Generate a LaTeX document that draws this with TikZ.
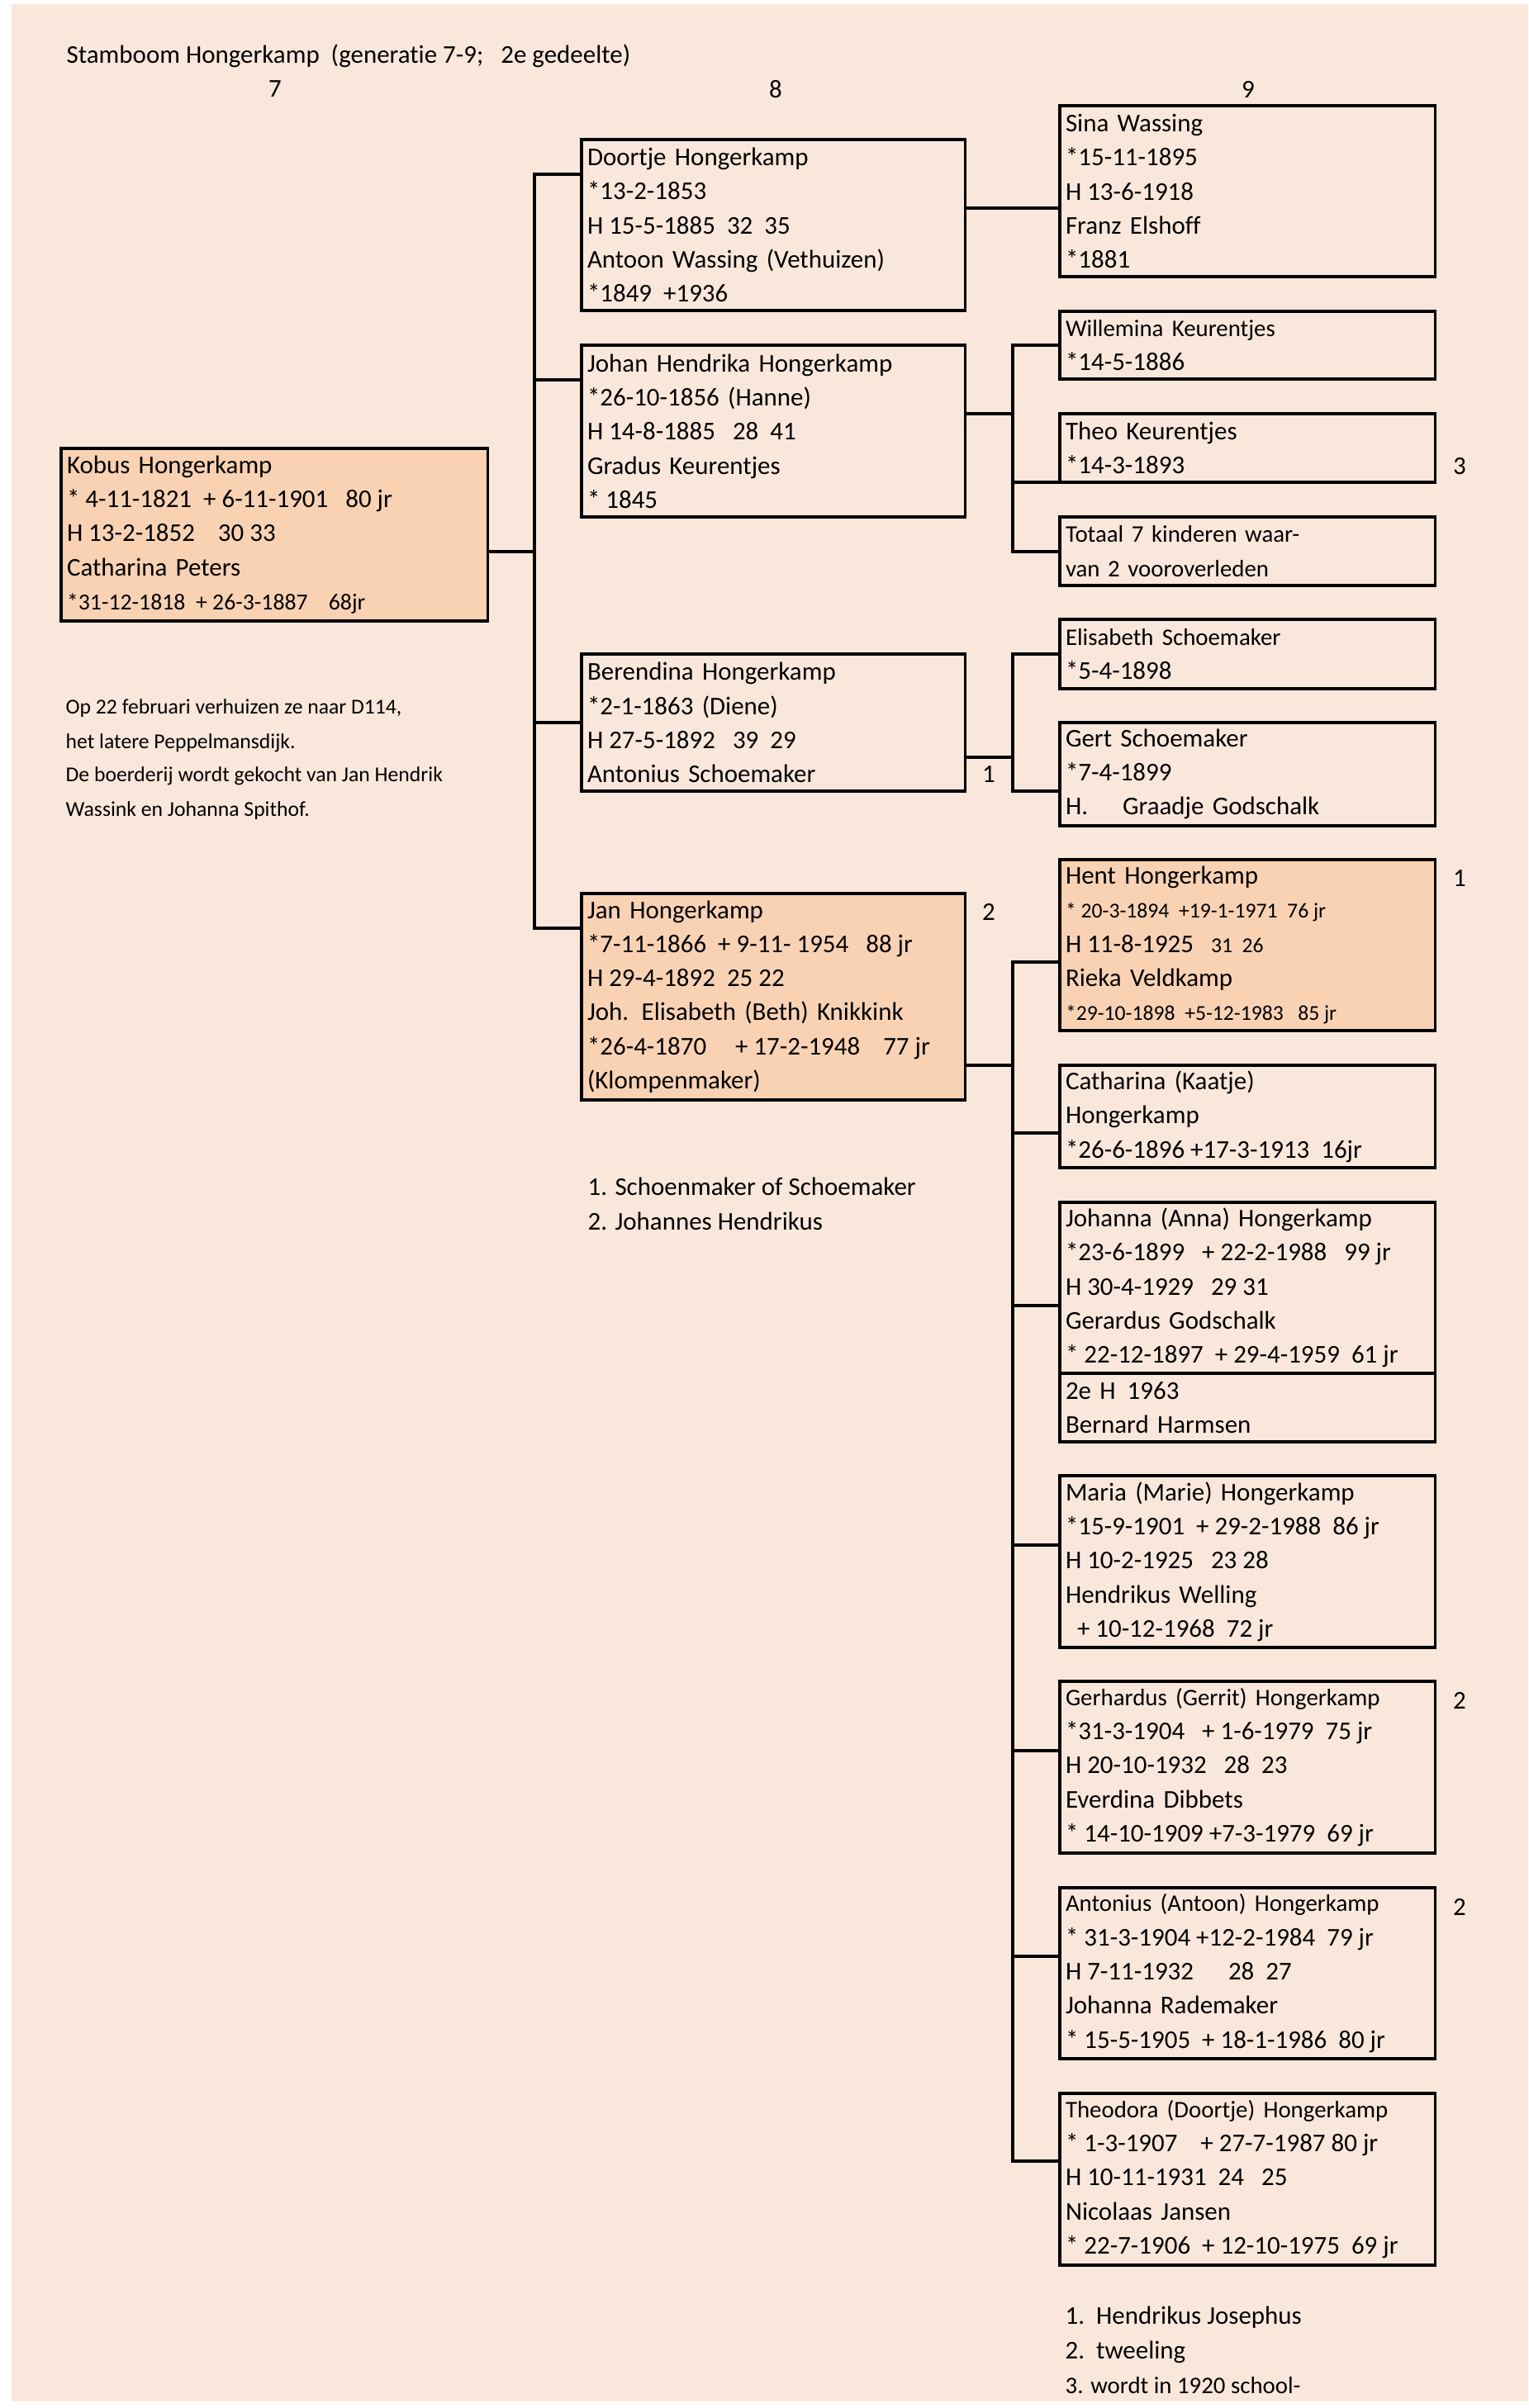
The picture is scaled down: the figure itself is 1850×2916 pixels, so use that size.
\documentclass[tikz,border=0pt]{standalone}
\usepackage{fontspec}
\setmainfont{Carlito}[Ligatures={TeX,NoCommon}]
\usetikzlibrary{calc}
\definecolor{bgpeach}{RGB}{250,231,219}
\definecolor{hilite}{RGB}{249,210,180}
\newcommand{\nf}{\fontsize{8.8}{11.75}\selectfont}
\newcommand{\smf}{\fontsize{8.2}{11.75}\selectfont}
\newcommand{\mdf}{\fontsize{7.9}{11.75}\selectfont}
\newcommand{\tnf}{\fontsize{7.3}{11.75}\selectfont}
\newcommand{\ws}{\hspace*{0.226em}}
\tikzset{
  pbox/.style={draw, line width=1pt, anchor=north west, outer sep=0pt,
    inner xsep=0.07cm, inner ysep=0pt, align=left, font=\nf},
  gA/.style={minimum width=4.64cm, text width=4.50cm},
  gB/.style={minimum width=4.54cm, text width=4.40cm},
  hl/.style={fill=hilite},
  conn/.style={line width=1pt},
  txt/.style={anchor=west, inner sep=0pt, font=\nf},
  stxt/.style={anchor=west, inner sep=0pt, font=\tnf},
  lbl/.style={anchor=center, inner sep=0pt, font=\nf}
}
\begin{document}
\begin{tikzpicture}[x=0.01cm,y=-0.01cm]
\useasboundingbox (0,0) rectangle (1850,2916);
\fill[bgpeach] (14,5) rectangle (1850,2908);

% title and column numbers
\node[txt] (title) at (80,68) {Stamboom Hongerkamp\ws\ws(generatie 7-9;\ws\ws\ws2e gedeelte)};
\node[lbl] (col7) at (333,108) {7};
\node[lbl] (col8) at (939,108) {8};
\node[lbl] (col9) at (1511,108) {9};

% generation 7
\node[pbox,hl,minimum width=5.16cm,text width=5.02cm,minimum height=2.09cm] (kobus) at (74,543)
 {Kobus Hongerkamp\\{}*\ws4-11-1821\ws\ws+\ws6-11-1901\ws\ws\ws80\ws jr\\H\ws13-2-1852\ws\ws\ws\ws30\ws33\\Catharina Peters\\{\mdf *31-12-1818\ws\ws+\ws26-3-1887\ws\ws\ws\ws68jr}};

\node[stxt] (note1) at (79,858) {Op 22 februari verhuizen ze naar D114,};
\node[stxt] (note2) at (79,900) {het latere Peppelmansdijk.};
\node[stxt] (note3) at (79,940) {De boerderij wordt gekocht van Jan Hendrik};
\node[stxt] (note4) at (79,982) {Wassink en Johanna Spithof.};

% generation 8
\node[pbox,gA,minimum height=2.07cm] (doortje) at (704,169)
 {Doortje Hongerkamp\\{}*13-2-1853\\H\ws15-5-1885\ws\ws32\ws\ws35\\Antoon Wassing (Vethuizen)\\{}*1849\ws\ws+1936};
\node[pbox,gA,minimum height=2.08cm] (johan) at (704,418)
 {Johan Hendrika Hongerkamp\\{}*26-10-1856 (Hanne)\\H\ws14-8-1885\ws\ws\ws28\ws\ws41\\Gradus Keurentjes\\{}*\ws1845};
\node[pbox,gA,minimum height=1.66cm] (berendina) at (704,792)
 {Berendina Hongerkamp\\{}*2-1-1863 (Diene)\\H\ws27-5-1892\ws\ws\ws39\ws\ws29\\Antonius Schoemaker};
\node[pbox,gA,hl,minimum height=2.50cm] (jan) at (704,1082)
 {Jan Hongerkamp\\{}*7-11-1866\ws\ws+\ws9-11-\ws1954\ws\ws\ws88\ws jr\\H\ws29-4-1892\ws\ws25\ws22\\Joh. Elisabeth (Beth) Knikkink\\{}*26-4-1870\ws\ws\ws\ws\ws+\ws17-2-1948\ws\ws\ws\ws77\ws jr\\(Klompenmaker)};

\node[txt] (fn1) at (711,1437) {1. Schoenmaker of Schoemaker};
\node[txt] (fn2) at (711,1479) {2. Johannes Hendrikus};
\node[lbl] (lb1) at (1197,938) {1};
\node[lbl] (lb2) at (1197,1104) {2};

% generation 9
\node[pbox,gB,minimum height=2.07cm] (sina) at (1283,128)
 {Sina Wassing\\{}*15-11-1895\\H\ws13-6-1918\\Franz Elshoff\\{}*1881};
\node[pbox,gB,minimum height=0.82cm] (willemina) at (1283,377)
 {{\smf Willemina Keurentjes}\\{}*14-5-1886};
\node[pbox,gB,minimum height=0.83cm] (theo) at (1283,501)
 {Theo Keurentjes\\{}*14-3-1893};
\node[pbox,gB,minimum height=0.83cm,font=\smf] (totaal) at (1283,626)
 {Totaal 7 kinderen waar-\\van 2 vooroverleden};
\node[pbox,gB,minimum height=0.84cm] (elisabeth) at (1283,750)
 {{\smf Elisabeth Schoemaker}\\{}*5-4-1898};
\node[pbox,gB,minimum height=1.25cm] (gert) at (1283,875)
 {Gert Schoemaker\\{}*7-4-1899\\H.\ws\ws\ws\ws\ws\ws Graadje Godschalk};
\node[pbox,gB,hl,minimum height=2.07cm] (hent) at (1283,1041)
 {Hent Hongerkamp\\{\tnf *\ws20-3-1894\ws\ws+19-1-1971\ws\ws76\ws jr}\\H\ws11-8-1925\ws\ws\ws{\tnf 31\ws\ws26}\\Rieka Veldkamp\\{\tnf *29-10-1898\ws\ws+5-12-1983\ws\ws\ws85\ws jr}};
\node[pbox,gB,minimum height=1.24cm] (catharina) at (1283,1290)
 {Catharina (Kaatje)\\Hongerkamp\\{}*26-6-1896\ws+17-3-1913\ws\ws16jr};
\node[pbox,gB,minimum height=2.07cm] (johanna) at (1283,1456)
 {Johanna (Anna) Hongerkamp\\{}*23-6-1899\ws\ws\ws+\ws22-2-1988\ws\ws\ws99\ws jr\\H\ws30-4-1929\ws\ws\ws29\ws31\\Gerardus Godschalk\\{}*\ws22-12-1897\ws\ws+\ws29-4-1959\ws\ws61\ws jr};
\node[pbox,gB,minimum height=0.83cm] (johannab) at (1283,1663)
 {2e H\ws\ws1963\\Bernard Harmsen};
\node[pbox,gB,minimum height=2.08cm] (maria) at (1283,1787)
 {Maria (Marie) Hongerkamp\\{}*15-9-1901\ws\ws+\ws29-2-1988\ws\ws86\ws jr\\H\ws10-2-1925\ws\ws\ws23\ws28\\Hendrikus Welling\\\ws\ws+\ws10-12-1968\ws\ws72\ws jr};
\node[pbox,gB,minimum height=2.08cm] (gerhardus) at (1283,2036)
 {{\smf Gerhardus (Gerrit) Hongerkamp}\\{}*31-3-1904\ws\ws\ws+\ws1-6-1979\ws\ws75\ws jr\\H\ws20-10-1932\ws\ws\ws28\ws\ws23\\Everdina Dibbets\\{}*\ws14-10-1909\ws+7-3-1979\ws\ws69\ws jr};
\node[pbox,gB,minimum height=2.07cm] (antonius) at (1283,2286)
 {{\smf Antonius (Antoon) Hongerkamp}\\{}*\ws31-3-1904\ws+12-2-1984\ws\ws79\ws jr\\H\ws7-11-1932\ws\ws\ws\ws\ws\ws28\ws\ws27\\Johanna Rademaker\\{}*\ws15-5-1905\ws\ws+\ws18-1-1986\ws\ws80\ws jr};
\node[pbox,gB,minimum height=2.08cm] (theodora) at (1283,2535)
 {{\smf Theodora (Doortje) Hongerkamp}\\{}*\ws1-3-1907\ws\ws\ws\ws+\ws27-7-1987\ws80\ws jr\\H\ws10-11-1931\ws\ws24\ws\ws\ws25\\Nicolaas Jansen\\{}*\ws22-7-1906\ws\ws+\ws12-10-1975\ws\ws69\ws jr};

\node[lbl] (lb3) at (1767,565) {3};
\node[lbl] (lb4) at (1767,1064) {1};
\node[lbl] (lb5) at (1767,2059) {2};
\node[lbl] (lb6) at (1767,2309) {2};

\node[txt] (fn3) at (1289,2806) {1.\ws\ws Hendrikus Josephus};
\node[txt] (fn4) at (1289,2848) {2.\ws\ws tweeling};
\node[txt,font=\smf] (fn5) at (1289,2889) {3. wordt in 1920 school-};

% connectors generation 7 -> 8
\coordinate (busK) at (647,668);
\coordinate (busD) at (647,211);
\coordinate (busJ) at (647,460);
\coordinate (busB) at (647,875);
\coordinate (busN) at (647,1124);
\draw[conn] (kobus.east |- busK) -- (busK);
\draw[conn] (doortje.west |- busD) -- (busD) -- (busN) -- (jan.west |- busN);
\draw[conn] (busJ) -- (johan.west |- busJ);
\draw[conn] (busB) -- (berendina.west |- busB);

% connectors generation 8 -> 9
\coordinate (cD) at (1226,252);
\draw[conn] (doortje.east |- cD) -- (sina.west |- cD);

\coordinate (jhB) at (1226,501);
\coordinate (jhW) at (1226,418);
\coordinate (jhT) at (1226,584);
\coordinate (jhX) at (1226,668);
\draw[conn] (johan.east |- jhB) -- (jhB);
\draw[conn] (willemina.west |- jhW) -- (jhW) -- (jhX) -- (totaal.west |- jhX);
\draw[conn] (jhT) -- (theo.west |- jhT);

\coordinate (beB) at (1226,917);
\coordinate (beE) at (1226,792);
\coordinate (beG) at (1226,958);
\draw[conn] (berendina.east |- beB) -- (beB);
\draw[conn] (elisabeth.west |- beE) -- (beE) -- (beG) -- (gert.west |- beG);

\coordinate (jaB) at (1226,1290);
\coordinate (jaH) at (1226,1165);
\coordinate (jaC) at (1226,1372);
\coordinate (jaJ) at (1226,1581);
\coordinate (jaM) at (1226,1871);
\coordinate (jaG) at (1226,2120);
\coordinate (jaA) at (1226,2369);
\coordinate (jaT) at (1226,2617);
\draw[conn] (jan.east |- jaB) -- (jaB);
\draw[conn] (hent.west |- jaH) -- (jaH) -- (jaT) -- (theodora.west |- jaT);
\draw[conn] (jaC) -- (catharina.west |- jaC);
\draw[conn] (jaJ) -- (johanna.west |- jaJ);
\draw[conn] (jaM) -- (maria.west |- jaM);
\draw[conn] (jaG) -- (gerhardus.west |- jaG);
\draw[conn] (jaA) -- (antonius.west |- jaA);
\end{tikzpicture}
\end{document}
